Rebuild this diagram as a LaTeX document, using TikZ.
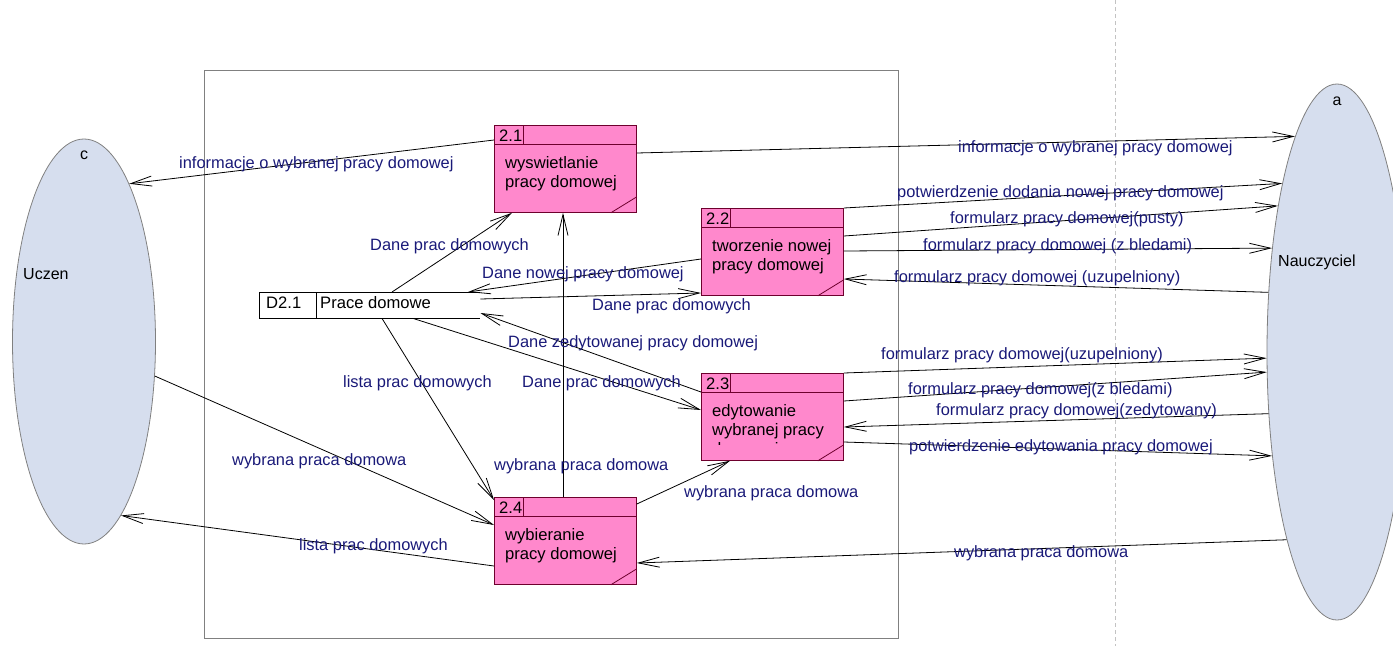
\documentclass[tikz,border=0pt]{standalone}
\usepackage{fontspec}
\setmainfont{Liberation Sans}
\usetikzlibrary{arrows.meta,shapes.geometric}
\definecolor{navyc}{RGB}{25,25,120}
\definecolor{pinkc}{RGB}{255,136,204}
\definecolor{boxc}{RGB}{110,0,45}
\definecolor{entc}{RGB}{214,222,238}
\definecolor{entb}{RGB}{128,128,128}
\definecolor{dashc}{RGB}{195,195,195}
\newcommand\labfont{\fontsize{16.4}{19}\selectfont}
\newcommand\boxfont{\fontsize{16.6}{19}\selectfont}
\newcommand\entfont{\fontsize{16}{19}\selectfont}
\begin{document}
\begin{tikzpicture}[x=1pt,y=-1pt,
  lbl/.style={font=\labfont, text=navyc, anchor=base west, inner sep=0pt},
  txt/.style={font=\boxfont, text=black, anchor=base west, inner sep=0pt},
  etxt/.style={font=\entfont, text=black, anchor=base west, inner sep=0pt},
  pbox/.style={draw=boxc, fill=pinkc, line width=0.8pt, minimum width=142pt, minimum height=87pt, inner sep=0pt, anchor=north west},
  stor/.style={minimum width=221pt, minimum height=26pt, inner sep=0pt, anchor=north west},
  ent/.style={ellipse, draw=entb, fill=entc, line width=0.8pt, inner sep=0pt},
  flow/.style={draw=black, line width=0.8pt, -{Straight Barb[length=21pt,width=10pt]}},
  sepline/.style={draw=boxc, line width=0.8pt}]
\useasboundingbox (0,0) rectangle (1393,646);
% system boundary and dashed divider
\draw[entb, line width=0.8pt] (204,70) rectangle (898,638);
\coordinate (dtop) at (1115,0);
\coordinate (dbot) at (1115,646);
\draw[dashc, line width=0.8pt, dash pattern=on 4pt off 3pt] (dtop) -- (dbot);
% external entities
\node[ent, minimum width=143pt, minimum height=405pt] (uc) at (84,341.5) {};
\node[ent, minimum width=140pt, minimum height=536pt] (na) at (1337,352) {};
\node[etxt, anchor=base] (ucid) at (84,159) {c};
\node[etxt] (ucname) at (23,279) {Uczen};
\node[etxt, anchor=base] (naid) at (1337,105) {a};
\node[etxt] (naname) at (1278,266) {Nauczyciel};
% processes
\foreach \n/\px/\py/\id in {b21/494/125/2.1, b22/701/208/2.2, b23/701/373/2.3, b24/494/497/2.4}{
  \node[pbox] (\n) at (\px,\py) {};
  \draw[sepline] ([yshift=-19pt]\n.north west) -- ([yshift=-19pt]\n.north east);
  \draw[sepline] ([xshift=29pt]\n.north west) -- ([xshift=29pt,yshift=-19pt]\n.north west);
  \draw[sepline] ([xshift=-26pt]\n.south east) -- ([yshift=16pt]\n.south east);
  \node[txt] (\n id) at ([xshift=5pt,yshift=-16pt]\n.north west) {\id};
}
\node[txt] (b21a) at ([xshift=11pt,yshift=-43pt]b21.north west) {wyswietlanie};
\node[txt] (b21b) at ([xshift=11pt,yshift=-62pt]b21.north west) {pracy domowej};
\node[txt] (b22a) at ([xshift=11pt,yshift=-43pt]b22.north west) {tworzenie nowej};
\node[txt] (b22b) at ([xshift=11pt,yshift=-62pt]b22.north west) {pracy domowej};
\begin{scope}
  \clip ([yshift=-19pt]b23.north west) rectangle ([yshift=16pt]b23.south east);
  \node[txt] (b23a) at ([xshift=11pt,yshift=-43pt]b23.north west) {edytowanie};
  \node[txt] (b23b) at ([xshift=11pt,yshift=-62pt]b23.north west) {wybranej pracy};
  \node[txt] (b23c) at ([xshift=11pt,yshift=-81pt]b23.north west) {domowej};
\end{scope}
\node[txt] (b24a) at ([xshift=11pt,yshift=-43pt]b24.north west) {wybieranie};
\node[txt] (b24b) at ([xshift=11pt,yshift=-62pt]b24.north west) {pracy domowej};
% data store
\node[stor] (st) at (259,292) {};
\draw[line width=0.8pt] (st.north east) -- (st.north west) -- (st.south west) -- (st.south east);
\draw[line width=0.8pt] ([xshift=57pt]st.north west) -- ([xshift=57pt]st.south west);
\node[txt] (stid) at ([xshift=7pt,yshift=10pt]st.south west) {D2.1};
\node[txt] (stname) at ([xshift=61pt,yshift=10pt]st.south west) {Prace domowe};
% flows
\draw[flow] ([yshift=-15pt]b21.north west) -- (uc.74.4);
\draw[flow] ([yshift=-28pt]b21.north east) -- (na.101.3);
\draw[flow] (b22.north east) -- (na.108);
\draw[flow] ([yshift=-28pt]b22.north east) -- (na.112.3);
\draw[flow] ([yshift=-43pt]b22.north east) -- (na.122.5);
\draw[flow] (na.139) -- ([yshift=-71pt]b22.north east);
\draw[flow] ([yshift=-51pt]b22.north west) -- ([xshift=209pt]st.north west);
\draw[flow] ([yshift=-7pt]st.north east) -- ([yshift=-85pt]b22.north west);
\draw[flow] ([xshift=133pt]st.north west) -- ([xshift=18pt]b21.south west);
\draw[flow] ([xshift=69pt]b24.north west) -- ([xshift=69pt]b21.south west);
\draw[flow] ([yshift=-19pt]b23.north west) -- ([yshift=-21pt]st.north east);
\draw[flow] ([xshift=154pt]st.south west) -- ([yshift=-37pt]b23.north west);
\draw[flow] ([xshift=123pt]st.south west) -- ([yshift=-3pt]b24.north west);
\draw[flow] (uc.-26.6) -- ([yshift=-28pt]b24.north west);
\draw[flow] ([yshift=-69pt]b24.north west) -- (uc.-78.5);
\draw[flow] ([yshift=-7pt]b24.north east) -- ([xshift=29pt]b23.south west);
\draw[flow] (na.255) -- ([yshift=-66pt]b24.north east);
\draw[flow] (b23.north east) -- (na.185.7);
\draw[flow] ([yshift=-28pt]b23.north east) -- (na.196.7);
\draw[flow] (na.222) -- ([yshift=-54pt]b23.north east);
\draw[flow] ([yshift=-69pt]b23.north east) -- (na.238.2);
% flow labels
\node[lbl] (l1) at (179,168) {informacje o wybranej pracy domowej};
\node[lbl] (l2) at (958,152) {informacje o wybranej pracy domowej};
\node[lbl] (l3) at (897,197) {potwierdzenie dodania nowej pracy domowej};
\node[lbl] (l4) at (950,223) {formularz pracy domowej(pusty)};
\node[lbl] (l5) at (923,250) {formularz pracy domowej (z bledami)};
\node[lbl] (l6) at (894,282) {formularz pracy domowej (uzupelniony)};
\node[lbl] (l7) at (482,278) {Dane nowej pracy domowej};
\node[lbl] (l8) at (592,310) {Dane prac domowych};
\node[lbl] (l9) at (370,250) {Dane prac domowych};
\node[lbl] (l10) at (494,470) {wybrana praca domowa};
\node[lbl] (l11) at (508,347) {Dane zedytowanej pracy domowej};
\node[lbl] (l12) at (522,387) {Dane prac domowych};
\node[lbl] (l13) at (343,387) {lista prac domowych};
\node[lbl] (l14) at (232,465) {wybrana praca domowa};
\node[lbl] (l15) at (299,550) {lista prac domowych};
\node[lbl] (l16) at (684,497) {wybrana praca domowa};
\node[lbl] (l17) at (954,557) {wybrana praca domowa};
\node[lbl] (l18) at (881,359) {formularz pracy domowej(uzupelniony)};
\node[lbl] (l19) at (908,394) {formularz pracy domowej(z bledami)};
\node[lbl] (l20) at (936,415) {formularz pracy domowej(zedytowany)};
\node[lbl] (l21) at (909,451) {potwierdzenie edytowania pracy domowej};
\end{tikzpicture}
\end{document}
